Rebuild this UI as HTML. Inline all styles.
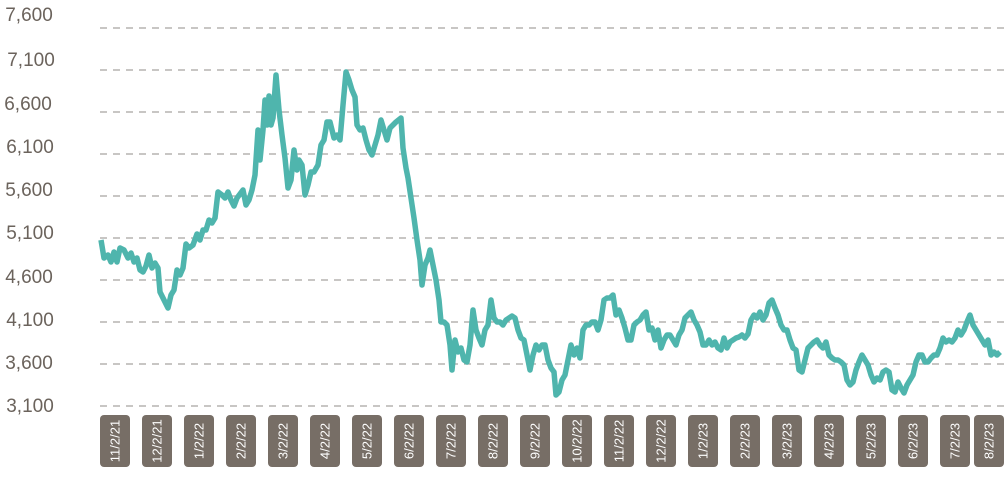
<!DOCTYPE html>
<html><head><meta charset="utf-8"><style>
body{margin:0;background:#fff;width:1004px;height:473px;overflow:hidden;font-family:"Liberation Sans",sans-serif}
</style></head><body>
<svg width="1004" height="473" xmlns="http://www.w3.org/2000/svg">
<g stroke="#a8a4a0" stroke-width="1.3" stroke-dasharray="7,6">
<line x1="100" x2="1004" y1="28" y2="28"/><line x1="100" x2="1004" y1="70" y2="70"/><line x1="100" x2="1004" y1="112" y2="112"/><line x1="100" x2="1004" y1="154" y2="154"/><line x1="100" x2="1004" y1="196" y2="196"/><line x1="100" x2="1004" y1="238" y2="238"/><line x1="100" x2="1004" y1="280" y2="280"/><line x1="100" x2="1004" y1="322" y2="322"/><line x1="100" x2="1004" y1="364" y2="364"/><line x1="100" x2="1004" y1="406" y2="406"/>
</g>
<g fill="#6b635c" font-size="19" text-anchor="middle">
<text x="29" y="21">7,600</text><text x="31" y="66">7,100</text><text x="28" y="110">6,600</text><text x="30" y="153">6,100</text><text x="29" y="196">5,600</text><text x="30" y="239">5,100</text><text x="29" y="283">4,600</text><text x="30" y="326">4,100</text><text x="29" y="369">3,600</text><text x="30" y="412">3,100</text>
</g>
<polyline fill="none" stroke="#4fb5ad" stroke-width="5.5" stroke-linejoin="round" points="101,240 104,258 108,255 111,262 114,252 117,262 120,248 124,250 128,258 131,253 134,262 137,258 140,270 143,272 146,266 149,255 152,268 155,263 158,268 160,292 164,300 168,308 171,295 174,290 177,270 180,275 183,268 186,244 189,248 193,245 197,234 200,240 203,230 206,230 209,220 212,223 215,218 218,192 222,195 225,198 228,192 231,200 234,206 237,198 240,194 243,190 246,205 249,200 252,190 255,175 258,130 260,160 263,130 265,100 267,125 269,96 271,125 273,118 276,75 279,110 282,135 285,158 288,188 291,180 294,150 297,170 299,160 302,165 305,195 308,185 311,172 314,172 318,165 321,145 324,140 327,122 330,122 334,138 337,135 340,140 343,105 346,72 349,80 352,90 355,97 357,125 360,130 363,128 366,140 369,150 372,155 375,145 378,135 381,120 384,130 387,140 390,128 393,125 396,122 401,118 403,148 406,168 408,178 411,198 414,218 417,240 420,260 422,285 425,265 428,258 430,250 433,265 436,280 439,300 441,322 444,322 447,325 450,345 452,370 455,340 458,352 461,348 464,360 467,362 470,345 473,310 476,330 479,338 482,345 485,330 488,325 491,300 494,318 497,322 500,322 503,325 506,320 509,318 512,316 515,318 518,330 521,338 524,340 527,355 530,370 533,355 536,345 539,350 542,345 545,345 548,360 551,368 554,372 556,395 559,392 562,380 565,375 568,360 571,345 574,355 577,348 580,358 583,330 586,325 589,325 592,322 595,322 598,330 601,320 604,300 607,298 610,298 613,295 616,315 619,310 622,318 625,328 628,340 631,340 634,325 637,322 640,320 643,315 646,312 649,330 652,328 655,340 658,330 661,348 664,340 667,335 670,335 673,340 676,345 679,335 682,330 685,318 688,315 691,312 694,320 697,325 700,332 703,345 706,345 709,340 712,345 715,342 718,348 721,350 724,338 727,348 730,342 733,340 736,338 739,337 742,335 745,338 748,334 751,320 754,315 757,318 760,312 763,320 766,315 769,303 772,300 775,308 778,315 781,325 784,330 787,330 790,340 793,348 796,350 799,370 802,372 805,360 808,348 811,345 814,342 817,340 820,345 823,348 826,342 829,355 832,358 835,360 838,360 841,362 844,365 847,380 850,385 853,382 856,370 859,362 862,355 865,360 868,365 871,375 874,382 877,378 880,380 883,372 886,370 889,372 892,390 895,392 898,382 901,388 904,393 907,385 910,380 913,375 916,362 919,355 922,355 925,362 928,362 931,358 934,355 937,355 940,348 943,338 946,342 949,340 952,342 955,338 958,330 961,335 964,330 967,322 970,315 973,325 976,330 979,335 982,340 985,345 988,340 991,355 994,352 997,355 1000,352"/>
<g fill="#776e66">
<rect x="100" y="415" width="30" height="52" rx="4"/><rect x="142" y="415" width="30" height="52" rx="4"/><rect x="184" y="415" width="30" height="52" rx="4"/><rect x="226" y="415" width="30" height="52" rx="4"/><rect x="268" y="415" width="30" height="52" rx="4"/><rect x="310" y="415" width="30" height="52" rx="4"/><rect x="352" y="415" width="30" height="52" rx="4"/><rect x="394" y="415" width="30" height="52" rx="4"/><rect x="436" y="415" width="30" height="52" rx="4"/><rect x="478" y="415" width="30" height="52" rx="4"/><rect x="520" y="415" width="30" height="52" rx="4"/><rect x="562" y="415" width="30" height="52" rx="4"/><rect x="604" y="415" width="30" height="52" rx="4"/><rect x="646" y="415" width="30" height="52" rx="4"/><rect x="688" y="415" width="30" height="52" rx="4"/><rect x="730" y="415" width="30" height="52" rx="4"/><rect x="772" y="415" width="30" height="52" rx="4"/><rect x="814" y="415" width="30" height="52" rx="4"/><rect x="856" y="415" width="30" height="52" rx="4"/><rect x="898" y="415" width="30" height="52" rx="4"/><rect x="940" y="415" width="30" height="52" rx="4"/><rect x="974" y="415" width="30" height="52" rx="4"/>
</g>
<g font-size="13" fill="#fff" text-anchor="middle">
<text transform="translate(119.5,441) rotate(-90)">11/2/21</text><text transform="translate(161.5,441) rotate(-90)">12/2/21</text><text transform="translate(203.5,441) rotate(-90)">1/2/22</text><text transform="translate(245.5,441) rotate(-90)">2/2/22</text><text transform="translate(287.5,441) rotate(-90)">3/2/22</text><text transform="translate(329.5,441) rotate(-90)">4/2/22</text><text transform="translate(371.5,441) rotate(-90)">5/2/22</text><text transform="translate(413.5,441) rotate(-90)">6/2/22</text><text transform="translate(455.5,441) rotate(-90)">7/2/22</text><text transform="translate(497.5,441) rotate(-90)">8/2/22</text><text transform="translate(539.5,441) rotate(-90)">9/2/22</text><text transform="translate(581.5,441) rotate(-90)">10/2/22</text><text transform="translate(623.5,441) rotate(-90)">11/2/22</text><text transform="translate(665.5,441) rotate(-90)">12/2/22</text><text transform="translate(707.5,441) rotate(-90)">1/2/23</text><text transform="translate(749.5,441) rotate(-90)">2/2/23</text><text transform="translate(791.5,441) rotate(-90)">3/2/23</text><text transform="translate(833.5,441) rotate(-90)">4/2/23</text><text transform="translate(875.5,441) rotate(-90)">5/2/23</text><text transform="translate(917.5,441) rotate(-90)">6/2/23</text><text transform="translate(959.5,441) rotate(-90)">7/2/23</text><text transform="translate(993.5,441) rotate(-90)">8/2/23</text>
</g>
</svg>
</body></html>
